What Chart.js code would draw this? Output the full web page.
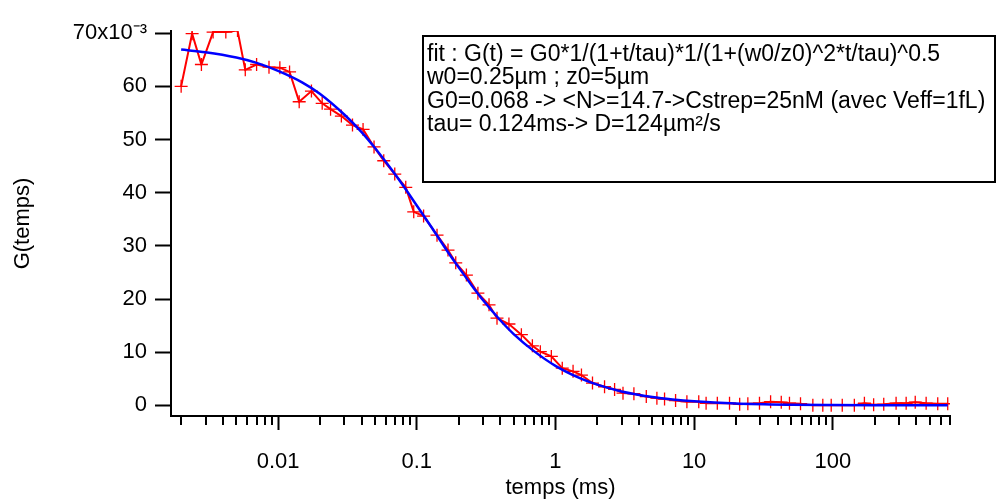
<!DOCTYPE html>
<html>
<head>
	<meta charset="utf-8">
	<title>G(temps)</title>
	<script src="https://cdn.jsdelivr.net/npm/chart.js@4.4.0/dist/chart.umd.min.js"></script>
	<style>
		body { margin: 0; background: #fff; }
		canvas { display: block; }
	</style>
</head>
<body>
	<canvas id="myChart" width="996" height="501"></canvas>

	<script>

		// temps (ms) et G(temps) x1e-3 , mesure
		var tData = [0.002, 0.0024, 0.0028, 0.0034, 0.0042, 0.0051, 0.0058, 0.0070, 0.0086, 0.0103,
			0.0121, 0.0142, 0.0174, 0.0208, 0.0239, 0.0286, 0.0344, 0.0410, 0.0492, 0.0578,
			0.0694, 0.0833, 0.0951, 0.112, 0.140, 0.168, 0.191, 0.228, 0.276, 0.332,
			0.379, 0.462, 0.568, 0.682, 0.778, 0.934, 1.12, 1.34, 1.54, 1.85,
			2.26, 2.67, 3.07, 3.68, 4.52, 5.39, 6.12, 7.35, 8.87, 10.8,
			12.2, 14.7, 18.0, 21.3, 24.4, 29.6, 35.6, 42.5, 48.7, 58.5,
			71.8, 84.7, 97.4, 117, 143, 169, 197, 233, 286, 338,
			393, 471, 571, 674];

		var gData = [60.0, 69.9, 64.1, 70.2, 70.2, 70.5, 63.1, 64.1, 63.6, 63.5,
			62.7, 57.1, 59.1, 56.8, 55.7, 54.4, 52.7, 51.9, 48.6, 46.0,
			43.5, 41.0, 36.4, 35.6, 32.0, 29.2, 26.8, 24.5, 21.1, 18.9,
			16.4, 15.3, 13.3, 11.2, 10.1, 9.2, 7.0, 6.4, 5.7, 4.2,
			3.5, 3.0, 2.3, 2.2, 1.65, 1.35, 1.2, 0.9, 0.7, 0.7,
			0.4, 0.4, 0.4, 0.2, 0.3, 0.4, 0.7, 0.6, 0.4, 0.3,
			0.0, 0.0, 0.0, 0.0, 0.0, 0.4, 0.1, 0.2, 0.4, 0.4,
			0.6, 0.4, 0.3, 0.3];

		// courbe du fit
		var tFit = [0.002, 0.003, 0.005, 0.007, 0.01, 0.015, 0.02, 0.03, 0.04, 0.05,
			0.07, 0.1, 0.13, 0.17, 0.2, 0.25, 0.3, 0.4, 0.5, 0.7,
			1, 1.5, 2, 3, 5, 7, 10, 20, 50, 100, 200, 674];
		var gFit = [66.9, 66.4, 65.4, 64.4, 62.9, 60.7, 58.6, 54.7, 51.4, 48.4,
			43.4, 37.6, 33.2, 28.6, 26.0, 22.5, 19.8, 16.0, 13.4, 10.2,
			7.43, 5.11, 3.89, 2.62, 1.57, 1.11, 0.76, 0.35, 0.12, 0.05, 0.02, 0.0];

		var yTicks = [0, 10, 20, 30, 40, 50, 60, 70];
		var yTickLabels = ['0', '10', '20', '30', '40', '50', '60', '70x10\u207B\u00B3'];
		var xMajor = [0.01, 0.1, 1, 10, 100];
		var xTickLabels = ['0.01', '0.1', '1', '10', '100'];

		var boxLines = [
			'fit : G(t) = G0*1/(1+t/tau)*1/(1+(w0/z0)^2*t/tau)^0.5',
			'w0=0.25\u00B5m ; z0=5\u00B5m',
			'G0=0.068 -> <N>=14.7->Cstrep=25nM (avec Veff=1fL)',
			'tau= 0.124ms-> D=124\u00B5m\u00B2/s'
		];

		var police = 'Arial, "Liberation Sans", sans-serif';

		function isMajor(v) {
			for (var i = 0; i < xMajor.length; i++) {
				if (Math.abs(v / xMajor[i] - 1) < 1e-6) return i;
			}
			return -1;
		}

		// petits traits + cadre de texte
		var extras = {
			id: 'extras',
			afterDraw: function(chart) {
				var ctx = chart.ctx;
				var xs = chart.scales.x;
				ctx.save();
				ctx.strokeStyle = '#000';
				ctx.lineWidth = 2;
				xs.ticks.forEach(function(t) {
					if (t.major) return;
					var px = Math.round(xs.getPixelForValue(t.value));
					ctx.beginPath();
					ctx.moveTo(px, xs.top);
					ctx.lineTo(px, xs.top + 9);
					ctx.stroke();
				});

				ctx.fillStyle = '#fff';
				ctx.fillRect(423, 36, 572, 146);
				ctx.strokeRect(423, 36, 572, 146);
				ctx.fillStyle = '#000';
				ctx.font = '23px ' + police;
				ctx.textBaseline = 'alphabetic';
				for (var i = 0; i < boxLines.length; i++) {
					ctx.fillText(boxLines[i], 427, 61 + i * 23.3);
				}
				ctx.restore();
			}
		};

		var ctx = document.getElementById('myChart').getContext('2d');
		var chart = new Chart(ctx, {
			type: 'line',
			data: {
				datasets: [{
					label: 'fit',
					data: tFit.map(function(t, i) { return {x: t, y: gFit[i]}; }),
					borderColor: 'rgb(0,0,255)',
					borderWidth: 2.5,
					pointRadius: 0,
					cubicInterpolationMode: 'monotone',
					fill: false,
					order: 0
				},
				{
					label: 'G(temps)',
					data: tData.map(function(t, i) { return {x: t, y: gData[i]}; }),
					borderColor: 'rgb(255,0,0)',
					borderWidth: 2,
					pointStyle: 'cross',
					pointRadius: 6.5,
					pointBorderWidth: 1.3,
					pointBorderColor: 'rgb(255,0,0)',
					tension: 0,
					fill: false,
					order: 1
				}]
			},
			options: {
				responsive: false,
				animation: false,
				layout: { padding: { top: 31, right: 46, left: 0, bottom: 0 } },
				plugins: {
					legend: { display: false },
					tooltip: { enabled: false }
				},
				scales: {
					x: {
						type: 'logarithmic',
						min: 0.00169,
						max: 700,
						afterBuildTicks: function(scale) {
							var ticks = [];
							for (var n = -3; n <= 2; n++) {
								for (var k = 1; k <= 9; k++) {
									var v = k * Math.pow(10, n);
									if (v < 0.00169 || v > 700.01) continue;
									var m = isMajor(v);
									if (m >= 0) v = xMajor[m];
									ticks.push({value: v, major: m >= 0});
								}
							}
							scale.ticks = ticks;
						},
						afterFit: function(scale) { scale.height = 85; },
						border: { display: true, color: '#000', width: 2 },
						grid: {
							drawOnChartArea: false,
							tickLength: 14,
							tickWidth: 2,
							tickColor: function(c) { return (c.tick && c.tick.major) ? '#000' : 'rgba(0,0,0,0)'; }
						},
						ticks: {
							autoSkip: false,
							maxRotation: 0,
							padding: 19,
							color: '#000',
							font: { family: police, size: 22 },
							callback: function(v) {
								var m = isMajor(v);
								return m >= 0 ? xTickLabels[m] : '';
							}
						},
						title: {
							display: true,
							text: 'temps (ms)',
							color: '#000',
							font: { family: police, size: 22 },
							padding: { top: 0, bottom: 0 }
						}
					},
					y: {
						type: 'linear',
						min: -2,
						max: 70.4,
						afterBuildTicks: function(scale) {
							scale.ticks = yTicks.map(function(v) { return {value: v}; });
						},
						afterFit: function(scale) { scale.width = 171; },
						border: { display: true, color: '#000', width: 2 },
						grid: {
							drawOnChartArea: false,
							tickLength: 16,
							tickWidth: 2,
							tickColor: '#000'
						},
						ticks: {
							padding: 8,
							color: '#000',
							font: { family: police, size: 22 },
							callback: function(v) {
								var i = yTicks.indexOf(v);
								return i >= 0 ? yTickLabels[i] : '';
							}
						},
						title: {
							display: true,
							text: 'G(temps)',
							color: '#000',
							font: { family: police, size: 22 },
							padding: { top: 10, bottom: 0 }
						}
					}
				}
			},
			plugins: [extras]
		});

	</script>
</body>
</html>
